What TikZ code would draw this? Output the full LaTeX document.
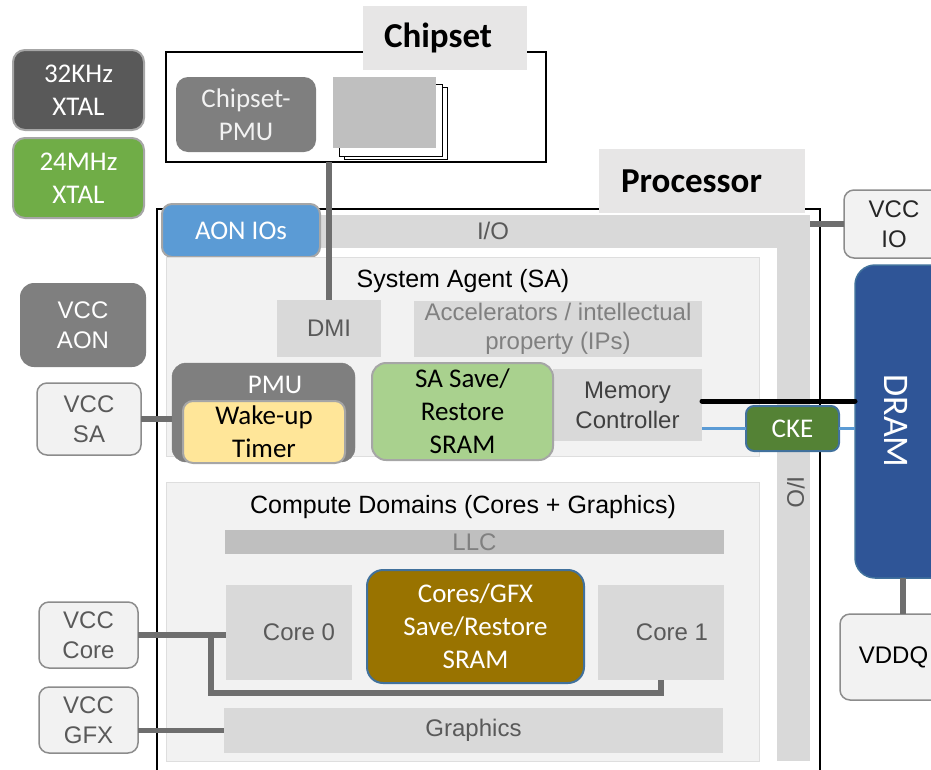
\documentclass[tikz,border=0pt]{standalone}
\usepackage{fontspec}
\setmainfont{Carlito}
\newfontfamily\arialf{Liberation Sans}
\definecolor{xtaldark}{HTML}{595959}
\definecolor{xtalgreen}{HTML}{70AD47}
\definecolor{gborder}{HTML}{A6A6A6}
\definecolor{lab}{HTML}{E7E6E6}
\definecolor{pmugray}{HTML}{7F7F7F}
\definecolor{stackgray}{HTML}{BFBFBF}
\definecolor{aon}{HTML}{5B9BD5}
\definecolor{band}{HTML}{D9D9D9}
\definecolor{panel}{HTML}{F2F2F2}
\definecolor{panelbd}{HTML}{DEDEDE}
\definecolor{blk}{HTML}{D9D9D9}
\definecolor{txtgray}{HTML}{595959}
\definecolor{acctxt}{HTML}{808080}
\definecolor{wake}{HTML}{FFE699}
\definecolor{sagreen}{HTML}{A9D18E}
\definecolor{gold}{HTML}{997300}
\definecolor{bluebd}{HTML}{41719C}
\definecolor{dramc}{HTML}{2F5597}
\definecolor{ckec}{HTML}{548235}
\definecolor{wirec}{HTML}{6E6E6E}
\definecolor{llcc}{HTML}{BFBFBF}
\definecolor{vccbd}{HTML}{8C8C8C}
\definecolor{bluewire}{HTML}{5B9BD5}
\begin{document}
\begin{tikzpicture}[x=1pt,y=-1pt,
  every node/.style={inner sep=0pt, outer sep=0pt, align=center},
  sz/.style 2 args={minimum width=#1pt, minimum height=#2pt},
  cal/.style={font=\fontsize{27}{33}\selectfont},
  ari/.style={font=\arialf\fontsize{24}{30}\selectfont},
  titlef/.style={font=\bfseries\fontsize{35}{40}\selectfont},
  vccbox/.style={draw=vccbd, line width=1.5pt, fill=panel, rounded corners=10pt, ari},
  greybd/.style={draw=gborder, line width=2pt},
  blockf/.style={fill=blk, ari, text=txtgray},
  wire/.style={draw=wirec, line width=5.5pt},
]
\useasboundingbox (0,0) rectangle (931,769);

% crystals
\node[greybd, fill=xtaldark, rounded corners=12pt, sz={131}{80}, cal, text=white] (xtal32) at (78.5,90) {32KHz\\XTAL};
\node[greybd, fill=xtalgreen, rounded corners=12pt, sz={131}{80}, cal, text=white] (xtal24) at (78.5,178) {24MHz\\XTAL};

% chipset
\node[draw=black, line width=1.3pt, sz={380}{110}] (chipset) at (356,107) {};
\node[fill=lab, sz={164}{64}, titlef] (chipsetlbl) at (445,38) {Chipset\hspace*{14pt}};
\node[fill=pmugray, rounded corners=12pt, sz={140}{75}, cal, text=panel] (cpmu) at (246,114.5) {Chipset-\\PMU};
\node[draw=black, line width=1pt, fill=white, sz={103}{72}] (stack3) at (395.5,123) {};
\node[draw=black, line width=1pt, fill=white, sz={103}{72}] (stack2) at (390.5,120) {};
\node[fill=stackgray, sz={103}{71}] (stack1) at (384.5,112.5) {};

% processor
\node[draw=black, line width=1.3pt, sz={663}{581}] (proc) at (488.5,499.5) {};
\node[fill=lab, sz={206}{64}, titlef] (proclbl) at (702,181) {Processor\hspace*{21pt}};

% I/O band
\node[fill=band, sz={647}{33}] (iotop) at (486.5,231.5) {};
\node[fill=band, sz={33}{546}] (ioright) at (793.5,488) {};
\node[ari, text=txtgray] (iolbl1) at (493,231) {I/O};
\node[ari, text=txtgray, rotate=-90] (iolbl2) at (796,492) {I/O};

\node[greybd, fill=aon, rounded corners=10pt, sz={158}{53}, cal, text=white] (aonios) at (241,230.5) {AON IOs};

% external supplies
\node[vccbox, sz={100}{68}, text=black!85] (vccio) at (894,224) {VCC\\IO};
\node[fill=pmugray, rounded corners=14pt, sz={126}{84}, ari, text=white] (vccaon) at (83,325) {VCC\\AON};
\node[vccbox, sz={104}{72}, text=txtgray] (vccsa) at (89,419) {VCC\\SA};
\node[vccbox, sz={99}{66}, text=txtgray] (vcccore) at (88.5,635) {VCC\\Core};
\node[vccbox, sz={99}{66}, text=txtgray] (vccgfx) at (88.5,720) {VCC\\GFX};

% DRAM
\node[draw=bluebd, line width=1.5pt, fill=dramc, rounded corners=20pt, sz={100}{313}] (dram) at (905,421.5) {};
\node[font=\fontsize{36}{40}\selectfont, text=white, rotate=-90] (dramlbl) at (896,421) {DRAM};
\node[vccbox, sz={107}{86}, text=black] (vddq) at (893.5,657) {VDDQ};

% System Agent
\node[draw=panelbd, line width=1pt, fill=panel, sz={593}{199}] (sabox) at (462.5,356.5) {};
\node[ari, font=\arialf\fontsize{25}{30}\selectfont] (satitle) at (463,281) {System Agent (SA)};
\node[blockf, sz={104}{57}] (dmi) at (329,328.5) {DMI};
\node[blockf, sz={288}{56}, text=acctxt, font=\arialf\fontsize{24}{29}\selectfont] (accel) at (558,329) {Accelerators / intellectual\\property (IPs)};
\node[fill=pmugray, draw=pmugray, rounded corners=14pt, sz={183}{99}] (pmu) at (263.5,412.5) {};
\node[cal, text=white] (pmulbl) at (275,385) {PMU};
\node[greybd, fill=wake, rounded corners=10pt, sz={162}{62}, cal] (wakeup) at (264,432) {Wake-up\\Timer};
\node[blockf, sz={149}{72}, text=black!75] (memctrl) at (627.5,405) {Memory\\Controller};
\node[greybd, fill=sagreen, rounded corners=14pt, sz={181}{97}, cal] (sasram) at (462.5,411.5) {SA Save/\\Restore\\SRAM};
\node[draw=bluebd, line width=2pt, fill=ckec, rounded corners=8pt, sz={93}{45}, cal, text=white] (cke) at (792.5,428.5) {CKE};

% Compute domains
\node[draw=panelbd, line width=1pt, fill=panel, sz={593}{279}] (compbox) at (462.5,621.5) {};
\node[font=\arialf\fontsize{25}{30}\selectfont] (comptitle) at (463,507) {Compute Domains (Cores + Graphics)};
\node[fill=llcc, sz={499}{24}, ari, text=acctxt] (llc) at (474.5,542) {LLC};
\node[blockf, sz={126}{95}] (core0) at (289,632.5) {\hspace*{20pt}Core 0};
\node[draw=bluebd, line width=2pt, fill=gold, rounded corners=16pt, sz={217}{113}, cal, text=white] (gfxsram) at (475.5,626.5) {Cores/GFX\\Save/Restore\\SRAM};
\node[blockf, sz={126}{95}] (core1) at (661,632.5) {\hspace*{22pt}Core 1};
\node[blockf, sz={499}{45}] (graphics) at (473.5,730.5) {Graphics};

% connectors
\draw[wire] (dmi.north |- chipset.south) -- (dmi.north);
\draw[wire] (vccio.west) -- (ioright.east |- vccio.west);
\draw[wire] (vccsa.east) -- (vccsa.east -| pmu.west);
\draw[wire] ([xshift=7pt]dram.south -| dramlbl.center) -- ([xshift=7pt]dramlbl.center |- vddq.north);
\draw[line width=5pt, line cap=round] ([yshift=4pt]memctrl.east) -- ([yshift=4pt]memctrl.east -| dram.west);
\draw[draw=bluewire, line width=3.5pt] (memctrl.east |- cke.west) -- (cke.west);
\draw[draw=bluewire, line width=3.5pt] (cke.east) -- (cke.east -| dram.west);
\coordinate (bj) at (211,635);
\coordinate (bb) at (211,693);
\draw[wire] (vcccore.east) -- (vcccore.east -| core0.west);
\draw[wire] (bj) -- (bb) -| (core1.south);
\draw[wire] (graphics.west -| vccgfx.east) -- (graphics.west);
\end{tikzpicture}
\end{document}
